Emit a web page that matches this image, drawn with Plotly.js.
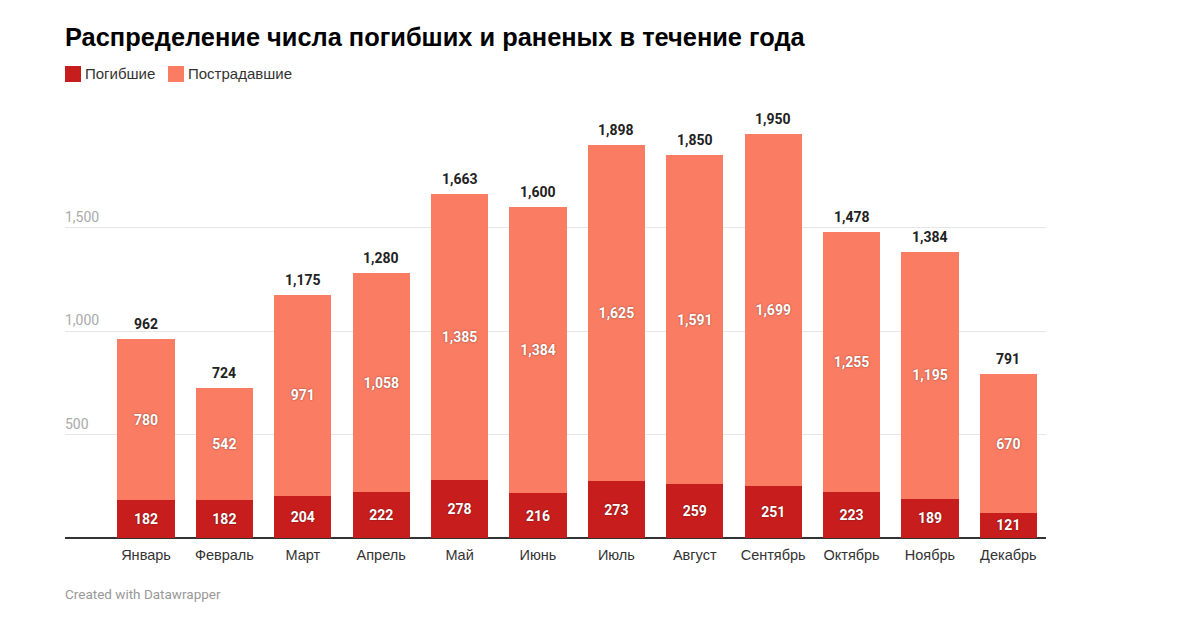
<!DOCTYPE html>
<html>
<head>
<meta charset="utf-8">
<script src="https://cdn.plot.ly/plotly-3.0.1.min.js"></script>
<style>
  html, body { margin: 0; padding: 0; background: #fff; }
  #chart { width: 1191px; height: 631px; }
</style>
</head>
<body>
<div id="chart"></div>
<script>
const months = ["Январь", "Февраль", "Март", "Апрель", "Май", "Июнь", "Июль", "Август", "Сентябрь", "Октябрь", "Ноябрь", "Декабрь"];
const killed = [182, 182, 204, 222, 278, 216, 273, 259, 251, 223, 189, 121];
const injured = [780, 542, 971, 1058, 1385, 1384, 1625, 1591, 1699, 1255, 1195, 670];
const totals = [962, 724, 1175, 1280, 1663, 1600, 1898, 1850, 1950, 1478, 1384, 791];
const yTicks = [500, 1000, 1500];
const yTickLabels = ["500", "1,000", "1,500"];
const seriesNames = ["Погибшие", "Пострадавшие"];
const seriesColors = ["#c71e1d", "#fa7c63"];

const FONT = "Roboto, 'Liberation Sans', Arial, sans-serif";
const SANS = "'Liberation Sans', Arial, sans-serif";
const fmt = v => v.toLocaleString("en-US");

const labelFont = {family: FONT, size: 14, color: "#ffffff", weight: 700, shadow: "0px 0px 2px rgba(0,0,0,0.45)"};

const traces = [killed, injured].map((vals, k) => ({
  type: "bar", name: seriesNames[k], x: months, y: vals,
  marker: {color: seriesColors[k]},
  text: vals.map(fmt), textposition: "inside", insidetextanchor: "middle",
  textfont: labelFont, constraintext: "none", hoverinfo: "skip"
}));

const W = 1191, H = 631;
const M = {l: 65, r: 145, t: 124, b: 93};
const plotW = W - M.l - M.r, plotH = H - M.t - M.b;
const pxX = px => (px - M.l) / plotW;
const pxY = py => (H - M.b - py) / plotH;

const annotations = [];
months.forEach((m, i) => {
  annotations.push({
    x: m, y: totals[i], xref: "x", yref: "y", text: fmt(totals[i]),
    showarrow: false, yanchor: "bottom", yshift: 5,
    font: {family: FONT, size: 14, color: "#222222", weight: 700}
  });
});
yTicks.forEach((v, i) => {
  annotations.push({
    x: 0, xref: "paper", y: v, yref: "y", text: yTickLabels[i],
    showarrow: false, xanchor: "left", yanchor: "bottom", yshift: 1, xshift: -2,
    font: {family: FONT, size: 14, color: "#aaaaaa"}
  });
});
annotations.push({
  x: 0, xref: "paper", xanchor: "left", xshift: -2,
  y: pxY(594), yref: "paper", yanchor: "middle", text: "Created with Datawrapper",
  showarrow: false, font: {family: FONT, size: 13.5, color: "#999999"}
});

// legend drawn as squares + labels
const legendX = [65, 168];
const shapes = [];
seriesNames.forEach((n, k) => {
  shapes.push({
    type: "rect", xref: "paper", yref: "paper",
    x0: pxX(legendX[k]), x1: pxX(legendX[k] + 16),
    y0: pxY(82), y1: pxY(66),
    fillcolor: seriesColors[k], line: {width: 0}
  });
  annotations.push({
    x: pxX(legendX[k] + 18), xref: "paper", xanchor: "left",
    y: pxY(74), yref: "paper", yanchor: "middle", text: n, showarrow: false,
    font: {family: SANS, size: 15, color: "#333333"}
  });
});

const layout = {
  width: W, height: H,
  margin: M,
  paper_bgcolor: "#ffffff", plot_bgcolor: "#ffffff",
  barmode: "stack", bargap: 0.27,
  title: {
    text: "<b>Распределение числа погибших и раненых в течение года</b>",
    x: 65 / W, xref: "container", xanchor: "left",
    y: 1 - 37 / H, yref: "container", yanchor: "middle",
    font: {family: SANS, size: 25.4, color: "#000000"}
  },
  showlegend: false,
  xaxis: {
    type: "category", range: [-1.033, 11.48],
    showgrid: false, showline: false, zeroline: false, ticks: "",
    ticklabelstandoff: 6,
    tickfont: {family: SANS, size: 14.5, color: "#333333"},
    fixedrange: true
  },
  yaxis: {
    range: [0, 2000], tickvals: [0].concat(yTicks), showticklabels: false,
    showgrid: true, gridcolor: "#e6e6e6", gridwidth: 1,
    zeroline: true, zerolinecolor: "#333333", zerolinewidth: 1.5,
    showline: false, ticks: "", fixedrange: true
  },
  shapes: shapes,
  annotations: annotations
};

Plotly.newPlot("chart", traces, layout, {displayModeBar: false, staticPlot: true});
</script>
</body>
</html>
